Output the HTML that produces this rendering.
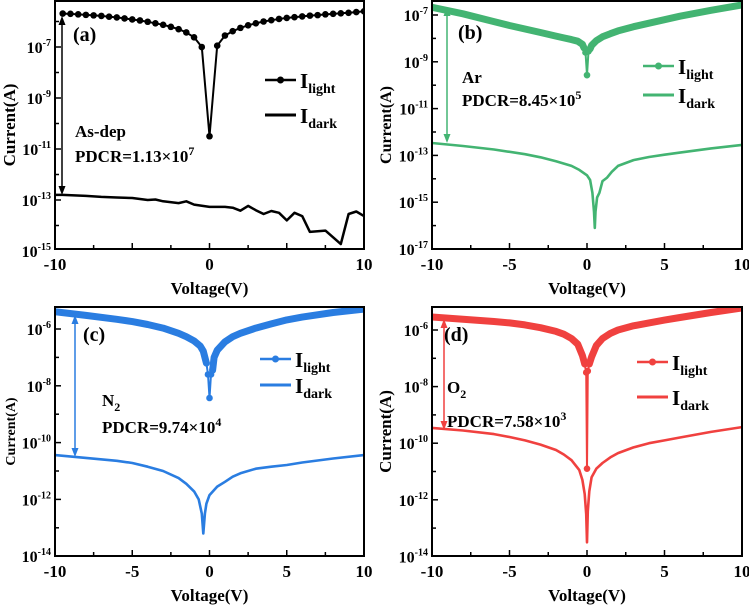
<!DOCTYPE html>
<html><head><meta charset="utf-8"><style>
html,body{margin:0;padding:0;background:#fff;}
svg{display:block;font-family:"Liberation Serif",serif;font-weight:bold;}
</style></head><body>
<svg id="fig" width="749" height="605" viewBox="0 0 749 605" xmlns="http://www.w3.org/2000/svg"></svg>
<script>
// ---- data (voltage in V, current as log10(A)) ----
const aLightV = [-9.5,-9,-8.5,-8,-7.5,-7,-6.5,-6,-5.5,-5,-4.5,-4,-3.5,-3,-2.5,-2,-1.5,-1,-0.5,0,0.5,1,1.5,2,2.5,3,3.5,4,4.5,5,5.5,6,6.5,7,7.5,8,8.5,9,9.5,10];
const aLightLog = [-5.69,-5.70,-5.72,-5.74,-5.76,-5.78,-5.81,-5.84,-5.88,-5.92,-5.96,-6.01,-6.07,-6.13,-6.21,-6.30,-6.43,-6.62,-7.0,-10.5,-6.95,-6.55,-6.38,-6.25,-6.15,-6.07,-6.0,-5.95,-5.9,-5.86,-5.83,-5.8,-5.77,-5.75,-5.72,-5.7,-5.68,-5.66,-5.63,-5.6];
const aDarkV = [-10,-9.5,-8,-7,-6,-5,-4,-3.5,-3,-2,-1.5,-1,0,1,1.5,2,2.5,3,3.5,4,4.5,5,5.5,6,6.5,7.5,8.5,9,9.5,10];
const aDarkLog = [-12.8,-12.8,-12.84,-12.88,-12.9,-12.92,-13.0,-12.98,-13.05,-13.12,-13.05,-13.18,-13.27,-13.27,-13.3,-13.42,-13.23,-13.4,-13.55,-13.43,-13.5,-13.8,-13.5,-13.63,-14.25,-14.2,-14.73,-13.55,-13.45,-13.63];
const bLightV = [-10,-8,-6,-5,-4,-3,-2,-1.5,-1,-0.6,-0.3,-0.2,-0.1,0,0.1,0.2,0.3,0.6,1,1.5,2,3,4,5,6,8,10];
const bLightLog = [-6.67,-6.95,-7.28,-7.45,-7.6,-7.75,-7.9,-7.98,-8.05,-8.12,-8.25,-8.4,-8.6,-9.57,-8.55,-8.45,-8.3,-8.1,-7.93,-7.8,-7.68,-7.5,-7.35,-7.2,-7.05,-6.8,-6.57];
const bDarkV = [-10,-8,-6,-4,-3,-2,-1,-0.5,0,0.2,0.35,0.45,0.5,0.55,0.65,0.8,1,1.3,1.6,2,3,4,5,6,8,10];
const bDarkLog = [-12.47,-12.6,-12.75,-12.95,-13.08,-13.25,-13.45,-13.62,-13.85,-14.05,-14.6,-15.4,-16.1,-15.4,-14.8,-14.6,-14.1,-13.95,-13.7,-13.45,-13.2,-13.07,-12.97,-12.88,-12.7,-12.55];
const cLightV = [-10,-8,-6,-5,-4,-3,-2,-1.5,-1,-0.6,-0.4,-0.2,-0.1,0,0.1,0.2,0.3,0.5,1,1.5,2,3,4,5,6,8,10];
const cLightLog = [-5.39,-5.52,-5.66,-5.74,-5.84,-5.97,-6.15,-6.27,-6.42,-6.6,-6.78,-7.2,-7.6,-8.43,-7.6,-7.45,-7.0,-6.75,-6.45,-6.27,-6.15,-5.97,-5.82,-5.68,-5.58,-5.42,-5.3];
const cDarkV = [-10,-8,-6,-5,-4,-3,-2,-1.5,-1,-0.7,-0.5,-0.4,-0.3,-0.2,0,0.5,1,1.5,2,3,4,5,6,8,10];
const cDarkLog = [-10.44,-10.54,-10.64,-10.72,-10.85,-11.0,-11.25,-11.45,-11.72,-12.0,-12.5,-13.2,-12.5,-12.15,-11.85,-11.55,-11.38,-11.2,-11.08,-10.92,-10.85,-10.79,-10.7,-10.56,-10.44];
const dLightV = [-10,-8,-6,-5,-4,-3,-2,-1.5,-1,-0.6,-0.3,-0.15,-0.05,0,0.05,0.15,0.3,0.6,1,1.5,2,3,4,5,6,8,10];
const dLightLog = [-5.54,-5.62,-5.7,-5.75,-5.82,-5.92,-6.05,-6.15,-6.3,-6.5,-6.9,-7.2,-7.5,-10.9,-7.45,-7.2,-6.95,-6.55,-6.3,-6.12,-6.0,-5.85,-5.75,-5.65,-5.56,-5.38,-5.22];
const dDarkV = [-10,-8,-6,-5,-4,-3,-2,-1.5,-1,-0.5,-0.3,-0.15,-0.05,0,0.05,0.15,0.3,0.6,1,1.5,2,3,4,5,6,8,10];
const dDarkLog = [-9.46,-9.55,-9.68,-9.78,-9.9,-10.05,-10.24,-10.4,-10.6,-10.95,-11.3,-11.8,-12.5,-13.5,-12.4,-11.7,-11.2,-10.9,-10.7,-10.5,-10.35,-10.15,-10.0,-9.9,-9.8,-9.6,-9.43];
const xTicks = [-10,-5,0,5,10];
const aYTicks = [-7,-9,-11,-13,-15];
const bYTicks = [-7,-9,-11,-13,-15,-17];
const cYTicks = [-6,-8,-10,-12,-14];
const dYTicks = [-6,-8,-10,-12,-14];

const NS = "http://www.w3.org/2000/svg";
const svg = document.getElementById('fig');
function mk(tag, attrs, parent){
  const e = document.createElementNS(NS, tag);
  for (const k in attrs) e.setAttribute(k, attrs[k]);
  (parent||svg).appendChild(e);
  return e;
}

function panel(cfg){
  const g = mk('g', {});
  
  
  const L=cfg.L, R=cfg.R, T=cfg.T, B=cfg.B;
  const sx = v => L + (v + 10) / 20 * (R - L);
  const sy = lg => cfg.y0 - (lg - cfg.yTop0) * cfg.pd;
  const cp = mk('clipPath', {id:'clip'+cfg.id}, g);
  mk('rect', {x:L, y:T, width:R-L, height:B-T}, cp);
  const yMin = cfg.yTicks[cfg.yTicks.length-1];
  for (let d = yMin; d <= cfg.yTicks[0] + 1; d++){
    const y = sy(d);
    if (y < T || y > B) continue;
    const major = cfg.yTicks.indexOf(d) >= 0;
    const t = mk('line', {x1:L, x2:L + (major?6:4), y1:y, y2:y, stroke:'#000', 'stroke-width':1.5}, g);
    
    
  }
  cfg.yTicks.forEach(d => {
    const y = sy(d);
    const tx = mk('text', {x:L-4, y:y+6, 'text-anchor':'end', 'font-size':16}, g);
    
    
    tx.textContent = '10';
    const sp = mk('tspan', {dy:-7, 'font-size':10}, tx);
    sp.textContent = String(d);
  });
  for (let v = -10; v <= 10; v += 2.5){
    const x = sx(v);
    const major = xTicks.indexOf(v) >= 0;
    const t = mk('line', {x1:x, x2:x, y1:B, y2:B-(major?6:4), stroke:'#000', 'stroke-width':1.5}, g);
    
    
  }
  cfg.xLabels.forEach(v => {
    const tx = mk('text', {x:sx(v), y:B+21, 'text-anchor':'middle', 'font-size':17}, g);
    
    
    tx.textContent = String(v);
  });
  const xt = mk('text', {x:(L+R)/2, y:B+45, 'text-anchor':'middle', 'font-size':17}, g);
  
  
  xt.textContent = 'Voltage(V)';
  const yt = mk('text', {x:0, y:0, 'text-anchor':'middle', 'font-size':cfg.ytSize, transform:'translate('+(cfg.ytX)+','+((T+B)/2)+') rotate(-90)'}, g);
  
  
  yt.textContent = 'Current(A)';
  const cg = mk('g', {'clip-path':'url(#clip'+cfg.id+')'}, g);
  const pts = (V, Lg, f) => V.map((v,i) => [v, Lg[i]]).filter(p => !f || f(p[0])).map(p => sx(p[0]).toFixed(1)+','+sy(p[1]).toFixed(1)).join(' ');
  const dk = mk('polyline', {points:pts(cfg.darkV, cfg.darkLog), fill:'none', stroke:cfg.color, 'stroke-width':cfg.thick?2.6:2.5, 'stroke-linejoin':'round'}, cg);
  
  
  const lt = mk('polyline', {points:pts(cfg.lightV, cfg.lightLog), fill:'none', stroke:cfg.color, 'stroke-width':2, 'stroke-linejoin':'round'}, cg);
  
  
  if (cfg.thick){
    const bl = mk('polyline', {points:pts(cfg.lightV, cfg.lightLog, v => v <= -0.15), fill:'none', stroke:cfg.color, 'stroke-width':7, 'stroke-linejoin':'round', 'stroke-linecap':'round'}, cg);
    
    
    const br = mk('polyline', {points:pts(cfg.lightV, cfg.lightLog, v => v >= 0.15), fill:'none', stroke:cfg.color, 'stroke-width':7, 'stroke-linejoin':'round', 'stroke-linecap':'round'}, cg);
    
    
  }
  cfg.lightV.forEach((v,i) => {
    if (cfg.thick && Math.abs(v) > 0.2) return;
    const c = mk('circle', {cx:sx(v), cy:sy(cfg.lightLog[i]), r:3.3, fill:cfg.color}, cg);
    
    
  });
  const fr = mk('rect', {x:L, y:T, width:R-L, height:B-T, fill:'none', stroke:'#000', 'stroke-width':2}, g);
  
  
  const ax = cfg.arrow[0], ay1 = cfg.arrow[1], ay2 = cfg.arrow[2];
  const ar = mk('g', {stroke:cfg.color, fill:cfg.color}, g);
  
  
  mk('line', {x1:ax, x2:ax, y1:ay1+4, y2:ay2-4, 'stroke-width':1.5}, ar);
  mk('polygon', {points:(ax-3.5)+','+(ay1+9)+' '+ax+','+ay1+' '+(ax+3.5)+','+(ay1+9), stroke:'none'}, ar);
  mk('polygon', {points:(ax-3.5)+','+(ay2-9)+' '+ax+','+ay2+' '+(ax+3.5)+','+(ay2-9), stroke:'none'}, ar);
  const pl = mk('text', {x:cfg.tag[0], y:cfg.tag[1], 'font-size':20}, g);
  
  
  pl.textContent = '(' + cfg.id + ')';
  const sm = mk('text', {x:cfg.samp[0], y:cfg.samp[1], 'font-size':17}, g);
  
  
  sm.textContent = cfg.sample;
  if (cfg.sub){ const s = mk('tspan', {dy:5, 'font-size':12}, sm); s.textContent = cfg.sub; }
  const pd = mk('text', {x:cfg.pdcr[0], y:cfg.pdcr[1], 'font-size':17}, g);
  
  
  pd.textContent = 'PDCR=' + cfg.pdcrText;
  const ps = mk('tspan', {dy:-7, 'font-size':12}, pd); ps.textContent = cfg.pdcrExp;
  const lx = cfg.leg[0], ly1 = cfg.leg[1], ly2 = cfg.leg[2];
  const lg1 = mk('g', {}, g);
  
  
  mk('line', {x1:lx, x2:lx+31, y1:ly1, y2:ly1, stroke:cfg.color, 'stroke-width':2.5}, lg1);
  mk('circle', {cx:lx+15.5, cy:ly1, r:3.5, fill:cfg.color}, lg1);
  const t1 = mk('text', {x:lx+35, y:ly1+8, 'font-size':21}, lg1); t1.textContent = 'I';
  const s1 = mk('tspan', {dy:5, 'font-size':14}, t1); s1.textContent = 'light';
  const lg2 = mk('g', {}, g);
  
  
  mk('line', {x1:lx, x2:lx+31, y1:ly2, y2:ly2, stroke:cfg.color, 'stroke-width':3}, lg2);
  const t2 = mk('text', {x:lx+35, y:ly2+8, 'font-size':21}, lg2); t2.textContent = 'I';
  const s2 = mk('tspan', {dy:5, 'font-size':14}, t2); s2.textContent = 'dark';
}

panel({id:'a', L:55, R:364, T:1, B:249, y0:47, yTop0:-7, pd:25.5, yTicks:aYTicks, xLabels:[-10,0,10], color:'#000', thick:false,
  lightV:aLightV, lightLog:aLightLog, darkV:aDarkV, darkLog:aDarkLog, ytX:15, ytSize:17,
  arrow:[62,16,195], tag:[73,41], samp:[75,137], sample:'As-dep', pdcr:[75,162], pdcrText:'1.13×10', pdcrExp:'7', leg:[265,80,115]});
panel({id:'b', L:432, R:742, T:1, B:249, y0:15, yTop0:-7, pd:23.4, yTicks:bYTicks, xLabels:xTicks, color:'#43b472', thick:true,
  lightV:bLightV, lightLog:bLightLog, darkV:bDarkV, darkLog:bDarkLog, ytX:391, ytSize:16,
  arrow:[447,7,143], tag:[458,39], samp:[462,83], sample:'Ar', pdcr:[462,106], pdcrText:'8.45×10', pdcrExp:'5', leg:[643,66,95]});
panel({id:'c', L:55, R:364, T:307, B:556, y0:329, yTop0:-6, pd:28.4, yTicks:cYTicks, xLabels:xTicks, color:'#2a7de1', thick:true,
  lightV:cLightV, lightLog:cLightLog, darkV:cDarkV, darkLog:cDarkLog, ytX:15, ytSize:14,
  arrow:[75,315,457], tag:[83,341], samp:[102,406], sample:'N', sub:'2', pdcr:[102,433], pdcrText:'9.74×10', pdcrExp:'4', leg:[260,359,385]});
panel({id:'d', L:432, R:742, T:307, B:556, y0:330, yTop0:-6, pd:28.3, yTicks:dYTicks, xLabels:xTicks, color:'#f0413f', thick:true,
  lightV:dLightV, lightLog:dLightLog, darkV:dDarkV, darkLog:dDarkLog, ytX:391, ytSize:17,
  arrow:[444,319,430], tag:[444,341], samp:[447,393], sample:'O', sub:'2', pdcr:[447,427], pdcrText:'7.58×10', pdcrExp:'3', leg:[637,362,397]});
</script>
</body></html>
